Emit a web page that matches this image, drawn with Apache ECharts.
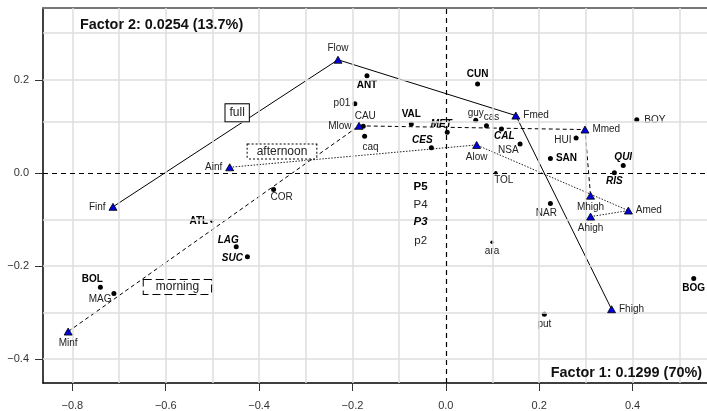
<!DOCTYPE html>
<html><head><meta charset="utf-8">
<script src="https://cdn.jsdelivr.net/npm/echarts@6/dist/echarts.min.js"></script>
<style>html,body{margin:0;padding:0;background:#fff}#c{width:707px;height:411px}</style>
</head><body><div id="c"></div><script>
// Column profiles (triangles): frequency levels for full day, morning and afternoon
const profNames = ['Finf','Flow','Fmed','Fhigh','Minf','Mlow','Mmed','Mhigh','Ainf','Alow','Amed','Ahigh'];
const profX = [-0.713,-0.231,0.150,0.355,-0.809,-0.186,0.298,0.310,-0.463,0.066,0.391,0.310];
const profY = [-0.073,0.243,0.123,-0.293,-0.341,0.101,0.093,-0.049,0.012,0.060,-0.081,-0.094];
const fullPath = ['Finf','Flow','Fmed','Fhigh'];
const morningPath = ['Minf','Mlow','Mmed','Mhigh'];
const afternoonPath = ['Ainf','Alow','Amed','Ahigh'];

// Row points (regions / stations)
const siteNames = ['ANT','CUN','p01','CAU','caq','VAL','MET','guy','cas','CAL','CES','NSA','HUI','SAN','QUI','RIS','TOL','BOY','NAR','ara','BOG','put','COR','ATL','LAG','SUC','BOL','MAG'];
const siteX = [-0.169,0.068,-0.195,-0.177,-0.174,-0.074,0.003,0.064,0.087,0.119,-0.031,0.159,0.279,0.224,0.380,0.361,0.107,0.409,0.224,0.099,0.531,0.211,-0.369,-0.501,-0.449,-0.425,-0.740,-0.711];
const siteY = [0.2085,0.191,0.1485,0.100,0.0785,0.105,0.087,0.113,0.101,0.094,0.054,0.062,0.075,0.031,0.016,0.000,0.000,0.114,-0.066,-0.149,-0.227,-0.304,-0.036,-0.104,-0.159,-0.180,-0.246,-0.259];
const siteFace = ['b','b','n','n','n','b','bi','n','n','bi','bi','n','n','b','bi','bi','n','n','n','n','b','n','n','b','bi','bi','b','n'];

// Typeface key
const keyNames = ['P5','P4','P3','p2'];
const keyX = [-0.054,-0.054,-0.054,-0.054];
const keyY = [-0.029,-0.068,-0.106,-0.146];
const keyFace = ['b','n','bi','n'];

// Boxed captions for the three profiles
const boxNames = ['full','afternoon','morning'];
const boxX = [-0.447,-0.351,-0.575];
const boxY = [0.129,0.046,-0.245];

// Reference grid and axis ticks
const gridXVals = [-0.8,-0.7,-0.6,-0.5,-0.4,-0.3,-0.2,-0.1,0.1,0.2,0.3,0.4,0.5];
const gridYVals = [0.3,0.2,0.108,-0.1,-0.2,-0.3,-0.4];
const xTicks = [-0.8,-0.6,-0.4,-0.2,0,0.2,0.4];
const yTicks = [-0.4,-0.2,0,0.2];

const FONT = 'Liberation Sans, Arial, sans-serif';

// label placement for points: [position, dx, dy]
const siteLabelPlace = {
  ANT:['bottom',0,0], CUN:['top',0,0], p01:['left',0,0], CAU:['top',2,-1], caq:['bottom',6,1],
  VAL:['top',0,0], MET:['top',-6,1], guy:['top',0,2], cas:['top',5,1], CAL:['bottom',3,-2],
  CES:['top',-9,2], NSA:['left',3,6], HUI:['left',0,2], SAN:['right',1,0], QUI:['top',0,1],
  RIS:['bottom',0,-1], TOL:['bottom',8,-1], BOY:['right',3,0], NAR:['bottom',-4,0], ara:['bottom',0,0],
  BOG:['bottom',0,0], put:['bottom',0,0], COR:['bottom',8,-2], ATL:['left',0,0], LAG:['top',-8,3],
  SUC:['left',0,2], BOL:['top',-8,1], MAG:['left',2,6]
};
const profLabelPlace = {
  Finf:'left', Flow:'top', Fmed:'right', Fhigh:'right', Minf:'bottom', Mlow:'left',
  Mmed:'right', Mhigh:'bottom', Ainf:'left', Alow:'bottom', Amed:'right', Ahigh:'bottom'
};
const smallDots = ['ara','ATL','TOL'];

function faceStyle(f) {
  return {
    fontWeight: f === 'n' ? 'normal' : 'bold',
    fontStyle: f === 'bi' ? 'italic' : 'normal',
    color: f === 'n' ? '#222' : '#000'
  };
}
function pathData(names) {
  return names.map(n => { const i = profNames.indexOf(n); return [profX[i], profY[i]]; });
}
const fmt = v => (v < 0 ? '\u2212' : '') + Math.abs(v).toFixed(1);

const siteData = siteNames.map((n, i) => {
  const p = siteLabelPlace[n];
  return {
    value: [siteX[i], siteY[i]], name: n,
    symbolSize: smallDots.includes(n) ? 3.5 : 5,
    label: Object.assign({ show: true, formatter: n, position: p[0], offset: [p[1], p[2]], distance: 2,
      fontSize: 10, fontFamily: FONT }, faceStyle(siteFace[i]))
  };
});
const profData = profNames.map((n, i) => ({
  value: [profX[i], profY[i]], name: n,
  label: { show: true, formatter: n, position: profLabelPlace[n], distance: 3, fontSize: 10, fontFamily: FONT, color: '#222' }
}));
const keyData = keyNames.map((n, i) => ({
  value: [keyX[i], keyY[i]],
  label: Object.assign({ show: true, formatter: n, position: 'inside', fontSize: 11.5, fontFamily: FONT }, faceStyle(keyFace[i]))
}));
const boxStyles = {
  full: { borderType: 'solid', padding: [3, 4, 2, 4] },
  afternoon: { borderType: 'dotted', padding: [1, 9, 1, 9] },
  morning: { borderType: 'dashed', padding: [1, 12, 1, 12] }
};
const boxData = boxNames.map((n, i) => ({
  value: [boxX[i], boxY[i]],
  label: Object.assign({ show: true, formatter: n, position: 'inside', fontSize: 12, fontFamily: FONT, color: '#222',
    backgroundColor: '#fff', borderColor: '#000', borderWidth: 1 }, boxStyles[n])
}));

const chart = echarts.init(document.getElementById('c'), null, { renderer: 'canvas' });
chart.setOption({
  animation: false,
  backgroundColor: '#fff',
  grid: { left: 43, right: 0, top: 8, bottom: 27, containLabel: false },
  xAxis: [{
    type: 'value', min: -0.8629, max: 0.5594,
    axisLine: { show: true, onZero: false, lineStyle: { color: '#000', width: 1.5 } },
    axisTick: { show: true, customValues: xTicks, length: 8, lineStyle: { color: '#333' } },
    axisLabel: { customValues: xTicks, formatter: fmt, margin: 17, fontSize: 11, fontFamily: FONT, color: '#333' },
    splitLine: { show: false }
  }, {
    type: 'value', position: 'top', min: -0.8629, max: 0.5594,
    axisLine: { show: true, onZero: false, lineStyle: { color: '#777', width: 2 } },
    axisTick: { show: false }, axisLabel: { show: false }, splitLine: { show: false }
  }],
  yAxis: {
    type: 'value', min: -0.4515, max: 0.3542,
    axisLine: { show: true, onZero: false, lineStyle: { color: '#000', width: 1.5 } },
    axisTick: { show: true, customValues: yTicks, length: 8, lineStyle: { color: '#333' } },
    axisLabel: { customValues: yTicks, formatter: fmt, margin: 14, fontSize: 11, fontFamily: FONT, color: '#333' },
    splitLine: { show: false }
  },
  graphic: [
    { type: 'text', left: 80, top: 18, z: 10,
      style: { text: 'Factor 2: 0.0254 (13.7%)', font: 'bold 14.4px ' + FONT, fill: '#111' } },
    { type: 'text', right: 5, top: 366, z: 10,
      style: { text: 'Factor 1: 0.1299 (70%)', font: 'bold 14.4px ' + FONT, fill: '#111' } }
  ],
  series: [
    { // light reference grid
      type: 'line', data: [], silent: true, z: 1,
      markLine: { silent: true, symbol: ['none', 'none'], label: { show: false },
        lineStyle: { color: '#dedede', width: 1.5, type: 'solid', opacity: 1 },
        data: gridXVals.map(v => ({ xAxis: v })).concat(gridYVals.map(v => ({ yAxis: v }))) }
    },
    { // dashed origin axes
      type: 'line', data: [], silent: true, z: 2,
      markLine: { silent: true, symbol: ['none', 'none'], label: { show: false },
        lineStyle: { color: '#000', width: 1.2, type: [5, 4], opacity: 1 },
        data: [{ xAxis: 0 }, { yAxis: 0 }] }
    },
    { name: 'full', type: 'line', data: pathData(fullPath), showSymbol: false, z: 3, silent: true,
      lineStyle: { color: '#000', width: 1, type: 'solid' } },
    { name: 'morning', type: 'line', data: pathData(morningPath), showSymbol: false, z: 3, silent: true,
      lineStyle: { color: '#000', width: 1, type: [4, 3] } },
    { name: 'afternoon', type: 'line', data: pathData(afternoonPath), showSymbol: false, z: 3, silent: true,
      lineStyle: { color: '#222', width: 1, type: [1.5, 1.5] } },
    { name: 'sites', type: 'scatter', data: siteData, symbol: 'circle', z: 4, silent: true,
      itemStyle: { color: '#000', opacity: 1 } },
    { name: 'profiles', type: 'scatter', data: profData, symbol: 'triangle', symbolSize: [8, 7], z: 5, silent: true,
      itemStyle: { color: '#0000dd', borderColor: '#000', borderWidth: 0.8, opacity: 1 } },
    { name: 'key', type: 'scatter', data: keyData, symbolSize: 0, z: 5, silent: true, itemStyle: { opacity: 1 } },
    { name: 'boxes', type: 'scatter', data: boxData, symbolSize: 0, z: 6, silent: true, itemStyle: { opacity: 1 } }
  ]
});
</script></body></html>
